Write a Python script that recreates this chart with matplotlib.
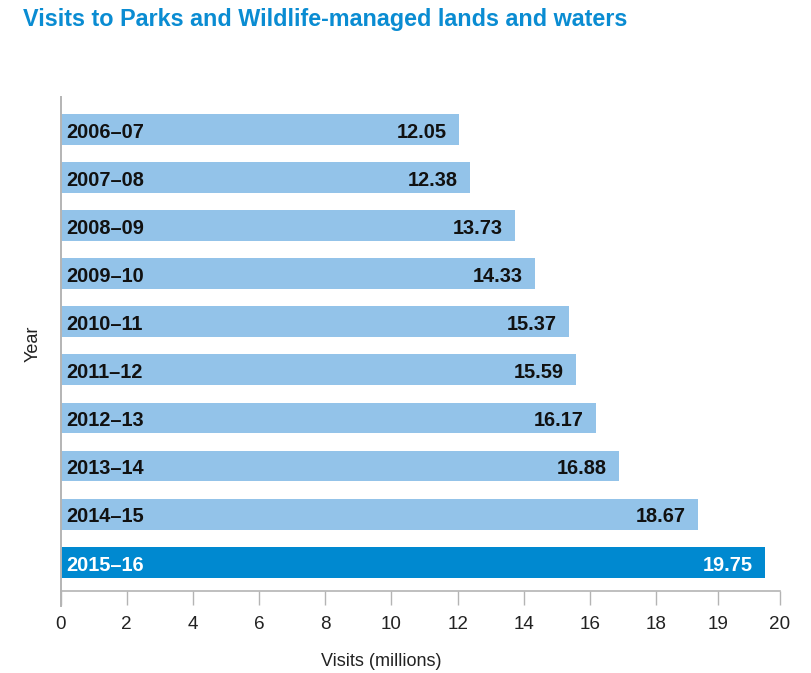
import numpy as np
import matplotlib
matplotlib.use("Agg")
import matplotlib.pyplot as plt

years = ["2006–07", "2007–08", "2008–09", "2009–10", "2010–11",
         "2011–12", "2012–13", "2013–14", "2014–15", "2015–16"]
visits = [12.05, 12.38, 13.73, 14.33, 15.37, 15.59, 16.17, 16.88, 18.67, 19.75]
tick_values = [0, 2, 4, 6, 8, 10, 12, 14, 16, 18, 19, 20]
tick_labels = ["0", "2", "4", "6", "8", "10", "12", "14", "16", "18", "19", "20"]

title = "Visits to Parks and Wildlife-managed lands and waters"
xlabel = "Visits (millions)"
ylabel = "Year"

LIGHT = "#93c3e9"
DARK = "#0089d0"
TITLE_C = "#0a8cd2"
GRAY = "#b4b4b4"

plt.rcParams['font.family'] = ['Liberation Sans', 'DejaVu Sans']

# axis in the original is stretched above 18 (18, 19, 20 spaced wider)
K = 1.87
def fwd(x):
    x = np.asarray(x, dtype=float)
    return np.where(x <= 18, x, 18 + (x - 18) * K)
def inv(y):
    y = np.asarray(y, dtype=float)
    return np.where(y <= 18, y, 18 + (y - 18) / K)

fig = plt.figure(figsize=(8.12, 6.73), dpi=100)
ax = fig.add_axes([60.5 / 812, 1 - 591.3 / 673, 719.5 / 812, (591.3 - 97) / 673])
ax.set_xscale('function', functions=(fwd, inv))

ypos = np.arange(len(years))
colors = [LIGHT] * (len(years) - 1) + [DARK]
ax.barh(ypos, visits, height=0.64, color=colors, zorder=2)

for i, (yr, v) in enumerate(zip(years, visits)):
    tc = "white" if i == len(years) - 1 else "#111111"
    ax.annotate(yr, xy=(0, i), xytext=(4.4, -6.0), textcoords='offset points',
                ha='left', va='baseline', fontsize=14.4, fontweight='bold',
                color=tc, zorder=3)
    ax.annotate(f"{v:.2f}", xy=(v, i), xytext=(-8.8, -6.0), textcoords='offset points',
                ha='right', va='baseline', fontsize=14.4, fontweight='bold',
                color=tc, zorder=3)

ax.set_xlim(0, 20)
ax.set_ylim(9.605, -0.674)
ax.set_xticks(tick_values)
ax.set_xticklabels(tick_labels)
ax.minorticks_off()
ax.set_yticks([])
ax.tick_params(axis='x', length=10.3, width=1.0, color=GRAY, pad=7.8,
               labelsize=13.6, labelcolor="#222222")
for s in ['top', 'right']:
    ax.spines[s].set_visible(False)
ax.spines['bottom'].set_color(GRAY)
ax.spines['bottom'].set_linewidth(1.2)
ax.spines['left'].set_color(GRAY)
ax.spines['left'].set_linewidth(1.4)
ax.spines['left'].set_bounds(9.905, -0.674)

fig.text(23 / 812, 1 - 26 / 673, title, ha='left', va='baseline',
         fontsize=16.8, fontweight='bold', color=TITLE_C)
fig.text(381.5 / 812, 1 - 662 / 673, xlabel, ha='center', va='center',
         fontsize=13, color="#222222")
fig.text(33 / 812, 1 - 344 / 673, ylabel, ha='center', va='center',
         rotation=90, fontsize=13, color="#222222")

fig.savefig("out.png", dpi=100)
